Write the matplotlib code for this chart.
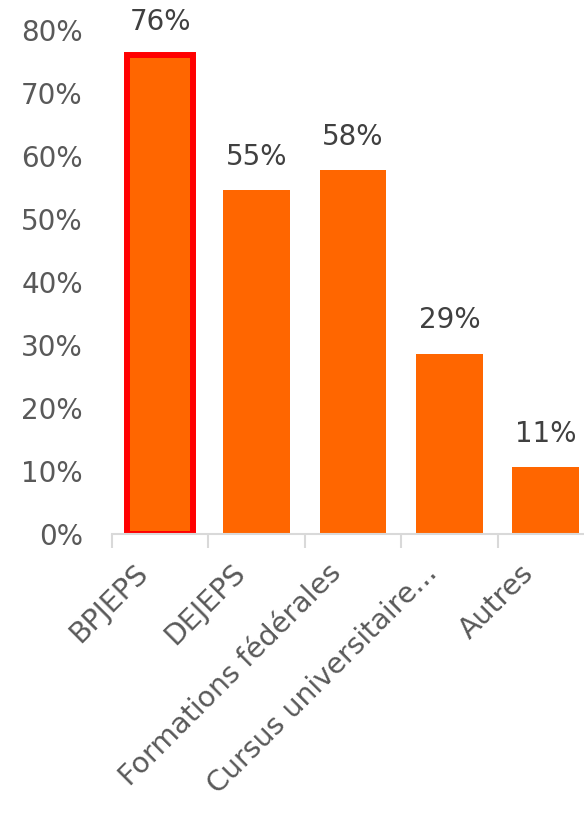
import matplotlib
matplotlib.use("Agg")
import matplotlib.pyplot as plt
from matplotlib.ticker import FuncFormatter, FixedLocator
from matplotlib.transforms import ScaledTranslation

# data
categories = ["BPJEPS", "DEJEPS", "Formations fédérales",
              "Cursus universitaire...", "Autres"]
values = [0.76, 0.546, 0.578, 0.286, 0.106]
highlight = [True, False, False, False, False]

plt.rcParams["font.family"] = "DejaVu Sans"

fig = plt.figure(figsize=(5.84, 8.17), dpi=100)
ax = fig.add_axes([0.1918, 0.3464, 0.8252, 0.6169])

x = list(range(len(categories)))
bars = ax.bar(x, values, width=0.69, color="#FF6600", zorder=2)
for b, h in zip(bars, highlight):
    if h:
        b.set_edgecolor("#FF0000")
        b.set_linewidth(4.3)

# value labels
for xi, v in zip(x, values):
    ax.annotate(f"{round(v * 100):.0f}%", (xi, v), xytext=(0, 24),
                textcoords="offset points", ha="center", va="center",
                fontsize=20, color="#404040", annotation_clip=False)

ax.set_xlim(-0.5, len(categories) - 0.5)
ax.set_ylim(0, 0.8)
ax.set_yticks([i / 10 for i in range(9)])
ax.yaxis.set_major_formatter(FuncFormatter(lambda v, p: f"{v * 100:.0f}%"))
ax.tick_params(axis="y", length=0, pad=21, labelsize=20, labelcolor="#595959")

ax.set_xticks(x)
ax.set_xticklabels(categories, rotation=45, ha="right", va="center",
                   rotation_mode="anchor", fontsize=20.5, color="#595959")
ax.tick_params(axis="x", which="major", length=0, pad=25)
ax.xaxis.set_minor_locator(FixedLocator([i - 0.5 for i in range(len(categories) + 1)]))
ax.tick_params(axis="x", which="minor", length=10, width=1.5, color="#D9D9D9")

shift = ScaledTranslation(-16 / 100, 0, fig.dpi_scale_trans)
for lbl in ax.get_xticklabels():
    lbl.set_transform(lbl.get_transform() + shift)

for s in ["top", "right", "left"]:
    ax.spines[s].set_visible(False)
ax.spines["bottom"].set_color("#D9D9D9")
ax.spines["bottom"].set_linewidth(1.5)

fig.savefig("out.png", dpi=100)
